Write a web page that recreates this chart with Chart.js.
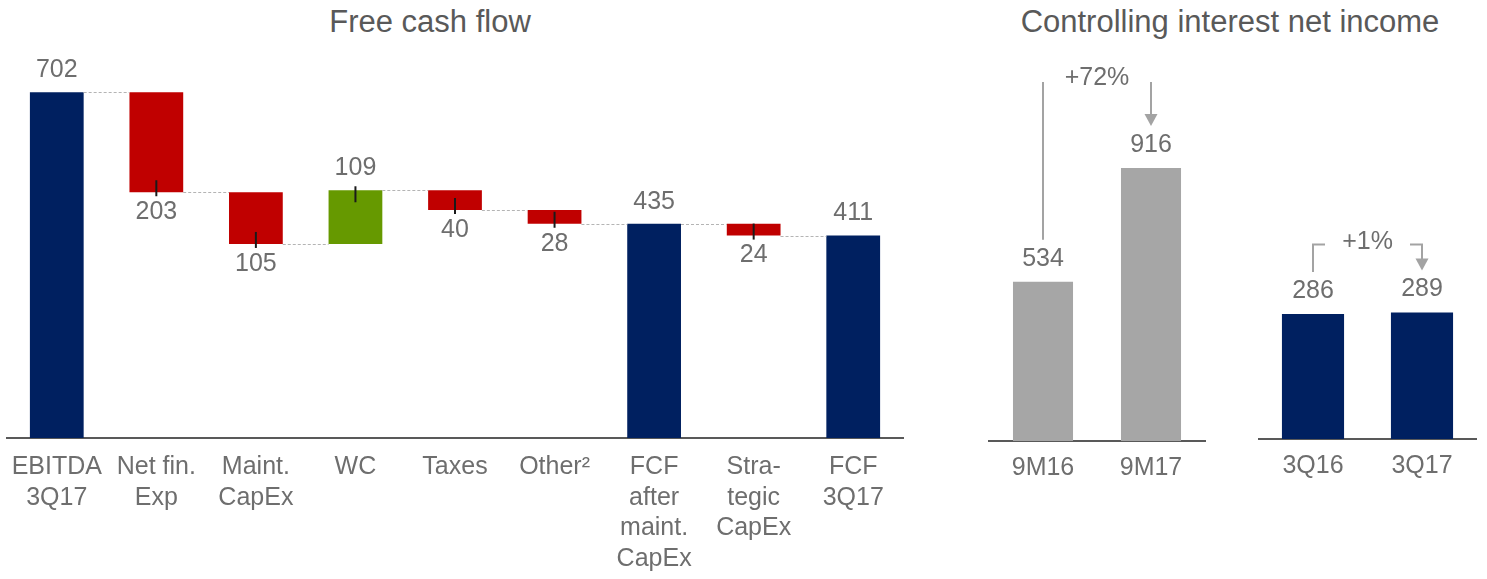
<!DOCTYPE html>
<html>
<head>
<meta charset="utf-8">
<script src="https://cdn.jsdelivr.net/npm/chart.js@4/dist/chart.umd.min.js"></script>
<style>
  body { margin: 0; width: 1487px; height: 579px; background: #fff; position: relative; overflow: hidden;
         font-family: "Liberation Sans", Arial, sans-serif; }
  .title { position: absolute; top: 0; width: 460px; height: 44px; line-height: 44px; font-size: 31px;
           color: #595959; text-align: center; white-space: nowrap; }
  canvas { position: absolute; top: 0; }
</style>
</head>
<body>
<div class="title" style="left:200px">Free cash flow</div>
<div class="title" style="left:1000px">Controlling interest net income</div>
<canvas id="fcf" width="910" height="579" style="left:0"></canvas>
<canvas id="nineMonths" width="235" height="579" style="left:980px"></canvas>
<canvas id="quarter" width="237" height="579" style="left:1250px"></canvas>
<script>
const fcfLabels = [['EBITDA', '3Q17'], ['Net fin.', 'Exp'], ['Maint.', 'CapEx'], 'WC', 'Taxes', 'Other²',
  ['FCF', 'after', 'maint.', 'CapEx'], ['Stra-', 'tegic', 'CapEx'], ['FCF', '3Q17']];
const fcfValues = [702, -203, -105, 109, -40, -28, 435, -24, 411];
const fcfIsTotal = [true, false, false, false, false, false, true, false, true];

const nineMonthLabels = ['9M16', '9M17'];
const nineMonthValues = [534, 916];

const quarterLabels = ['3Q16', '3Q17'];
const quarterValues = [286, 289];

const NAVY = '#002060', RED = '#c00000', GREEN = '#669900', GREY_BAR = '#a6a6a6';
const TEXT = '#6e6e6e', ARROW = '#a3a3a3', AXIS = '#595959';
const FONT = '"Liberation Sans", Arial, sans-serif';

// totals stand on zero, the other steps float from the running level
let level = 0;
const fcfRanges = fcfValues.map((v, i) => {
  if (fcfIsTotal[i]) { level = v; return [0, v]; }
  const r = [level, level + v];
  level += v;
  return r;
});
const fcfColors = fcfValues.map((v, i) => fcfIsTotal[i] ? NAVY : v < 0 ? RED : GREEN);

function xAxis(height, padding){
  return {
    grid: { display: false, drawTicks: false },
    border: { color: AXIS, width: 2 },
    ticks: { color: TEXT, font: { family: FONT, size: 25, lineHeight: 1.22 }, padding,
             maxRotation: 0, autoSkip: false },
    afterFit: s => { s.height = height; s.paddingLeft = 0; s.paddingRight = 0; }
  };
}

const waterfallMarks = {
  id: 'waterfallMarks',
  afterDatasetsDraw(chart){
    const { ctx } = chart;
    const y = chart.scales.y;
    const bars = chart.getDatasetMeta(0).data;
    ctx.save();
    // dotted links between consecutive steps
    ctx.strokeStyle = '#b4b4b4'; ctx.lineWidth = 1; ctx.setLineDash([3, 2]);
    for (let i = 0; i < bars.length - 1; i++) {
      const yy = Math.round(y.getPixelForValue(fcfRanges[i][1])) + 0.5;
      ctx.beginPath();
      ctx.moveTo(bars[i].x + bars[i].width / 2, yy);
      ctx.lineTo(bars[i + 1].x - bars[i + 1].width / 2, yy);
      ctx.stroke();
    }
    ctx.setLineDash([]);
    ctx.font = `25px ${FONT}`; ctx.textAlign = 'center'; ctx.textBaseline = 'middle';
    bars.forEach((bar, i) => {
      const v = fcfValues[i];
      const top = Math.min(bar.y, bar.base), bottom = Math.max(bar.y, bar.base);
      ctx.fillStyle = TEXT;
      if (v >= 0) ctx.fillText(String(v), bar.x, top - 22);
      else ctx.fillText(String(-v), bar.x, bottom + 20);
      if (fcfIsTotal[i]) return;
      ctx.strokeStyle = '#1a1a1a'; ctx.lineWidth = 2;
      ctx.beginPath();
      if (v < 0) { ctx.moveTo(bar.x, bottom - 12); ctx.lineTo(bar.x, bottom + 4); }
      else { ctx.moveTo(bar.x, top - 4); ctx.lineTo(bar.x, top + 12); }
      ctx.stroke();
    });
    ctx.restore();
  }
};

const growthMarks = {
  id: 'growthMarks',
  afterDatasetsDraw(chart, args, opts){
    const { ctx } = chart;
    const [a, b] = chart.getDatasetMeta(0).data;
    const vals = chart.data.datasets[0].data;
    ctx.save();
    ctx.font = `25px ${FONT}`; ctx.textAlign = 'center'; ctx.textBaseline = 'middle';
    ctx.fillStyle = TEXT;
    [a, b].forEach((bar, i) => ctx.fillText(String(vals[i]), bar.x, bar.y - 23));

    const pct = Math.round((vals[1] / vals[0] - 1) * 100);
    const yTop = Math.min(a.y, b.y) - opts.rise;
    const tip = b.y - 42;
    ctx.strokeStyle = ARROW; ctx.lineWidth = 2;
    ctx.beginPath();
    ctx.moveTo(a.x, a.y - 42); ctx.lineTo(a.x, yTop);
    if (opts.bracket) {
      ctx.lineTo(a.x + 12, yTop);
      ctx.moveTo(b.x - 12, yTop); ctx.lineTo(b.x, yTop);
    } else {
      ctx.moveTo(b.x, yTop);
    }
    ctx.lineTo(b.x, tip - 10);
    ctx.stroke();
    ctx.fillStyle = ARROW;
    ctx.beginPath();
    ctx.moveTo(b.x - 6.5, tip - 12); ctx.lineTo(b.x + 6.5, tip - 12); ctx.lineTo(b.x, tip);
    ctx.closePath(); ctx.fill();

    ctx.fillStyle = TEXT;
    ctx.fillText(`+${pct}%`, (a.x + b.x) / 2, yTop - opts.textLift);
    ctx.restore();
  }
};

new Chart(document.getElementById('fcf'), {
  type: 'bar',
  data: { labels: fcfLabels,
          datasets: [{ data: fcfRanges, backgroundColor: fcfColors, barPercentage: 0.54, categoryPercentage: 1 }] },
  options: {
    responsive: false, animation: false,
    layout: { padding: { top: 44, left: 7, right: 7, bottom: 0 } },
    plugins: { legend: { display: false }, tooltip: { enabled: false } },
    scales: { x: xAxis(141, 14), y: { display: false, min: 0, max: 800 } }
  },
  plugins: [waterfallMarks]
});

new Chart(document.getElementById('nineMonths'), {
  type: 'bar',
  data: { labels: nineMonthLabels,
          datasets: [{ data: nineMonthValues, backgroundColor: GREY_BAR, barPercentage: 0.556, categoryPercentage: 1 }] },
  options: {
    responsive: false, animation: false,
    layout: { padding: { top: 83.4, left: 9, right: 10, bottom: 0 } },
    plugins: { legend: { display: false }, tooltip: { enabled: false },
               growthMarks: { rise: 86, textLift: 4, bracket: false } },
    scales: { x: xAxis(138, 12), y: { display: false, min: 0, max: 1200 } }
  },
  plugins: [growthMarks]
});

new Chart(document.getElementById('quarter'), {
  type: 'bar',
  data: { labels: quarterLabels,
          datasets: [{ data: quarterValues, backgroundColor: NAVY, barPercentage: 0.57, categoryPercentage: 1 }] },
  options: {
    responsive: false, animation: false,
    layout: { padding: { top: 89, left: 8.5, right: 10.5, bottom: 0 } },
    plugins: { legend: { display: false }, tooltip: { enabled: false },
               growthMarks: { rise: 68, textLift: 2, bracket: true } },
    scales: { x: xAxis(140, 12), y: { display: false, min: 0, max: 800 } }
  },
  plugins: [growthMarks]
});
</script>
</body>
</html>
